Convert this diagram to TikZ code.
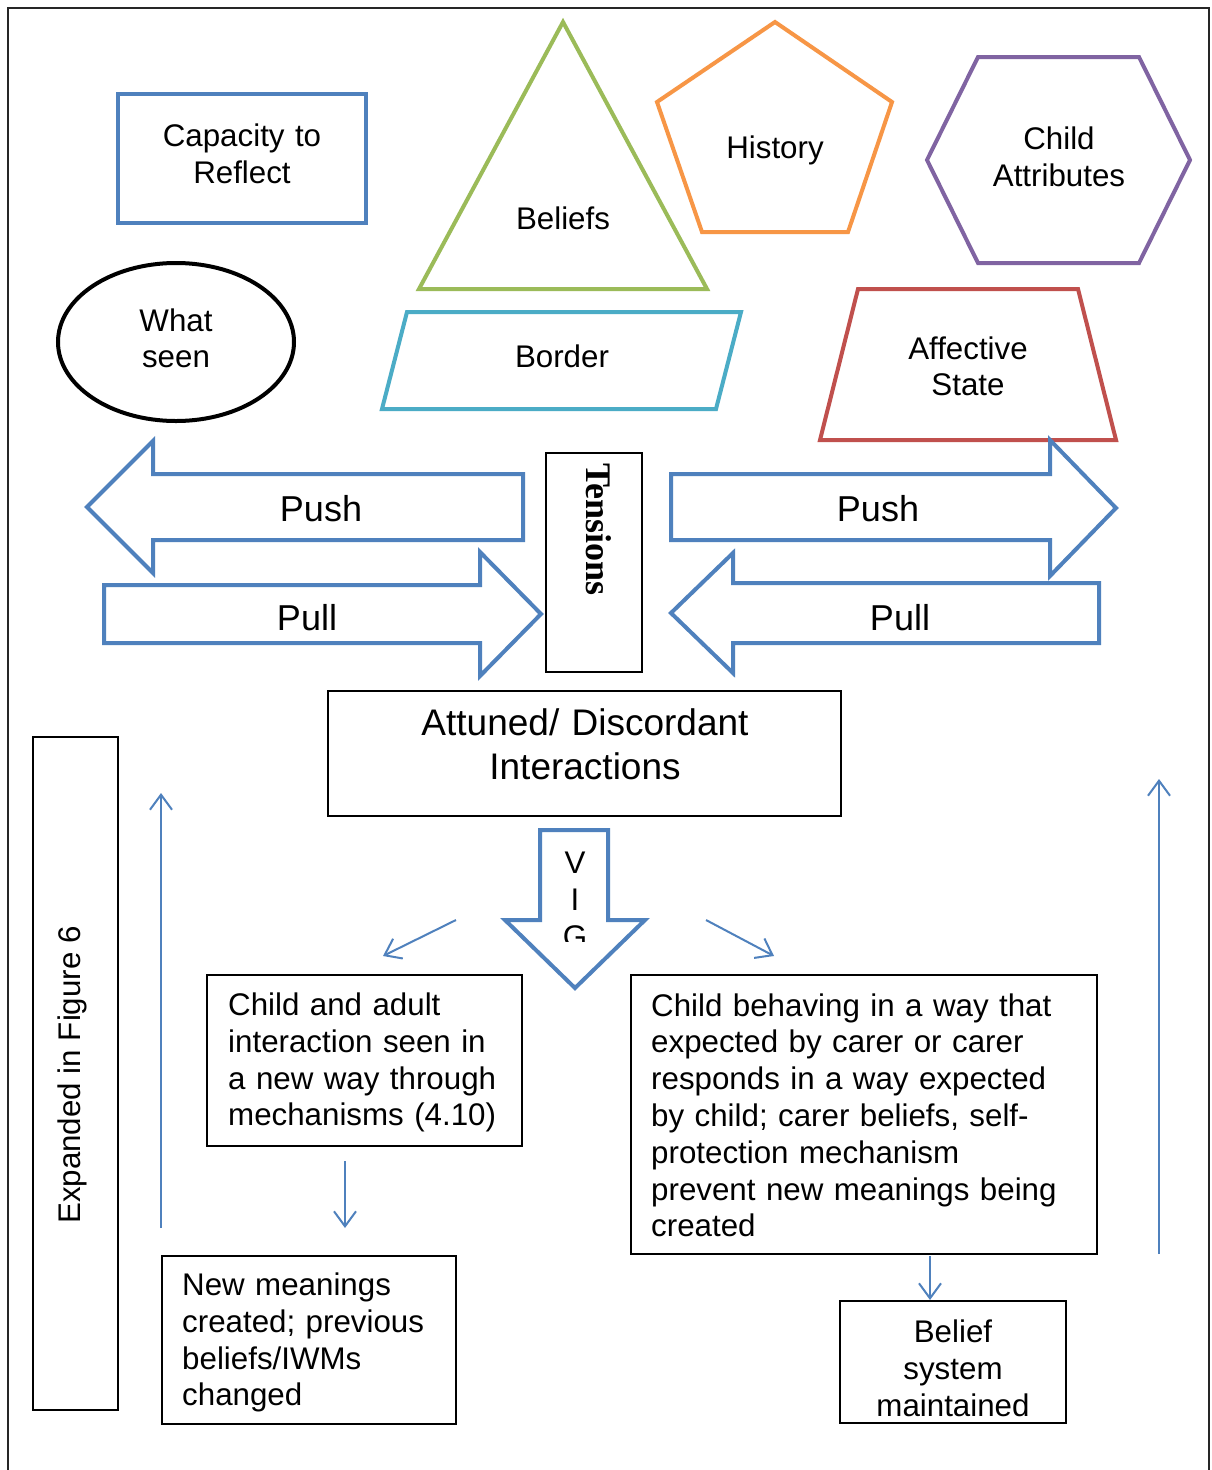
\documentclass[tikz,border=0pt]{standalone}
\usepackage{fontspec}
\setmainfont{Liberation Sans}
\newfontfamily\tensfont{Liberation Serif}
\usetikzlibrary{arrows.meta,shapes.geometric}

\definecolor{fblue}{RGB}{79,129,189}
\definecolor{fgreen}{RGB}{155,187,89}
\definecolor{forange}{RGB}{247,150,70}
\definecolor{fpurple}{RGB}{128,100,162}
\definecolor{fred}{RGB}{192,80,77}
\definecolor{fcyan}{RGB}{75,172,198}

\begin{document}
\begin{tikzpicture}[x=1pt,y=-1pt,
  txt/.style={inner sep=0pt, font=\fontsize{31.3}{36.8}\selectfont},
  ctxt/.style={txt, text width=320pt, align=center, anchor=base},
  ltxt/.style={txt, text width=460pt, align=left, anchor=base west},
  big/.style={inner sep=0pt, font=\fontsize{36}{42}\selectfont, anchor=base},
  outline/.style={line width=4pt, line join=miter},
  plain/.style={draw=black, line width=1.5pt, inner sep=0pt, rectangle},
  flow/.style={draw=fblue, line width=2pt, -{Straight Barb[length=15pt,width=22pt]}},
]
\useasboundingbox (0,0) rectangle (1211,1470);
\fill[white] (0,0) rectangle (1211,1470);

% page frame, open at the bottom
\draw[black!85, line width=1.6pt] (8,1470) -- (8,8) -- (1209,8) -- (1209,1470);

% ---- top row of shapes ----
\node[outline, draw=fblue, rectangle, minimum width=248pt, minimum height=129pt] (capbox) at (242,158.5) {};
\node[ctxt] (captxt) at (242,146.7) {Capacity to\\Reflect};

\draw[outline, draw=fgreen] (563,22) -- (707,289) -- (419,289) -- cycle;
\node[ctxt] (beltxt) at (563,229) {Beliefs};

\draw[outline, draw=forange] (775,22) -- (892,102) -- (848,232) -- (702,232) -- (657,102) -- cycle;
\node[ctxt] (histtxt) at (775,158) {History};

\draw[outline, draw=fpurple] (978,57) -- (1139,57) -- (1190,160) -- (1139,263) -- (978,263) -- (927,160) -- cycle;
\node[ctxt] (childtxt) at (1059,149.3) {Child\\Attributes};

\node[ellipse, draw=black, line width=4pt, inner sep=0pt, minimum width=236pt, minimum height=158pt] (seen) at (176,342) {};
\node[ctxt] (seentxt) at (176,331) {What\\seen};

\draw[outline, draw=fcyan] (407,312) -- (741,312) -- (716,409) -- (382,409) -- cycle;
\node[ctxt] (bordtxt) at (562,367) {Border};

\draw[outline, draw=fred] (858,289) -- (1078,289) -- (1116,440) -- (820,440) -- cycle;
\node[ctxt] (afftxt) at (968,359) {Affective\\State};

% ---- push / pull block arrows around the tensions box ----
\draw[outline, draw=fblue] (523,474) -- (153,474) -- (153,441) -- (87,507) -- (153,573) -- (153,540) -- (523,540) -- cycle;
\node[big] (pushl) at (321,521) {Push};

\draw[outline, draw=fblue] (104,585) -- (480,585) -- (480,552) -- (541,614) -- (480,676) -- (480,643) -- (104,643) -- cycle;
\node[big] (pulll) at (307,630) {Pull};

\draw[outline, draw=fblue] (671,474) -- (1050,474) -- (1050,440) -- (1116,508) -- (1050,576) -- (1050,540) -- (671,540) -- cycle;
\node[big] (pushr) at (878,521) {Push};

\draw[outline, draw=fblue] (1099,583) -- (733,583) -- (733,553) -- (671,613) -- (733,673) -- (733,643) -- (1099,643) -- cycle;
\node[big] (pullr) at (900,630) {Pull};

\node[plain, minimum width=96pt, minimum height=219pt] (tensbox) at (594,562.5) {};
\node[inner sep=0pt, rotate=-90, anchor=base west, font={\tensfont\bfseries\fontsize{36}{40}\selectfont}] (tenstxt) at (586,463) {Tensions};

% ---- interactions and VIG ----
\node[plain, minimum width=513pt, minimum height=125pt] (attbox) at (584.5,753.5) {};
\node[ctxt, text width=480pt, font=\fontsize{37}{43.5}\selectfont] (atttxt) at (585,735.5) {Attuned/ Discordant\\Interactions};

\draw[outline, draw=fblue] (540,830) -- (608,830) -- (608,920) -- (645,920) -- (575,988) -- (505,920) -- (540,920) -- cycle;
\begin{scope}
  \clip (540,830) rectangle (608,941);
  \node[ctxt, text width=60pt] (vigtxt) at (575,873.5) {V\\I\\G};
\end{scope}

% ---- outcome boxes ----
\node[plain, minimum width=315pt, minimum height=171pt] (leftbox) at (364.5,1060.5) {};
\node[ltxt] (lefttxt) at (228,1015.5) {Child and adult\\interaction seen in\\a new way through\\mechanisms (4.10)};

\node[plain, minimum width=294pt, minimum height=168pt] (newbox) at (309,1340) {};
\node[ltxt] (newtxt) at (182,1295.5) {New meanings\\created; previous\\beliefs/IWMs\\changed};

\node[plain, minimum width=466pt, minimum height=279pt] (rightbox) at (864,1114.5) {};
\node[ltxt] (righttxt) at (651,1016) {Child behaving in a way that\\expected by carer or carer\\responds in a way expected\\by child; carer beliefs, self-\\protection mechanism\\prevent new meanings being\\created};

\node[plain, minimum width=226pt, minimum height=122pt] (beliefbox) at (953,1362) {};
\node[ctxt] (belieftxt) at (953,1342.7) {Belief\\system\\maintained};

\node[plain, minimum width=85pt, minimum height=673pt] (expbox) at (75.5,1073.5) {};
\node[txt, rotate=90, anchor=base] (exptxt) at (80.7,1075) {Expanded in Figure 6};

% ---- thin connectors ----
\coordinate (splitL) at (456,920);
\coordinate (intoL) at (383,956);
\coordinate (splitR) at (706,920);
\coordinate (intoR) at (774,956);
\coordinate (leftOut) at (345,1161);
\coordinate (newIn) at (345,1228);
\coordinate (rightOut) at (930,1256);
\coordinate (beliefIn) at (930,1300);
\coordinate (loopLa) at (161,1228);
\coordinate (loopLb) at (161,793);
\coordinate (loopRa) at (1159,1254);
\coordinate (loopRb) at (1159,779);

\draw[flow] (splitL) -- (intoL);
\draw[flow] (splitR) -- (intoR);
\draw[flow] (leftOut) -- (newIn);
\draw[flow] (rightOut) -- (beliefIn);
\draw[flow] (loopLa) -- (loopLb);
\draw[flow] (loopRa) -- (loopRb);
\end{tikzpicture}
\end{document}
